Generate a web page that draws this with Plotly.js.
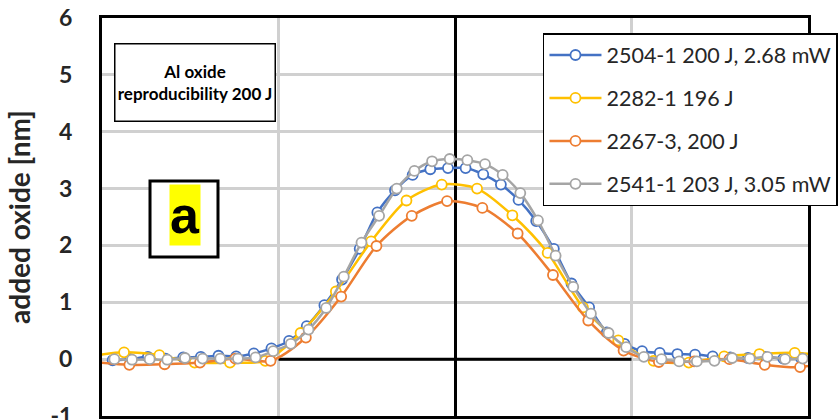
<!DOCTYPE html>
<html>
<head>
<meta charset="utf-8">
<script src="https://cdn.plot.ly/plotly-3.0.1.min.js"></script>
<style>
html,body{margin:0;padding:0;background:#fff;overflow:hidden;}
#chart{width:840px;height:420px;}
</style>
</head>
<body>
<div id="chart"></div>
<script>
// Series names
const seriesNames = ["2504-1 200 J, 2.68 mW", "2282-1 196 J", "2267-3, 200 J", "2541-1 203 J, 3.05 mW"];
const seriesColors = ["#4472C4", "#FFC000", "#ED7D31", "#A5A5A5"];

// 2504-1 (blue)
const blueX = [-1.94,-1.84,-1.74,-1.64,-1.54,-1.44,-1.34,-1.24,-1.14,-1.04,-0.94,-0.84,-0.74,-0.64,-0.54,-0.44,-0.34,-0.24,-0.14,-0.04,0.06,0.16,0.26,0.36,0.46,0.56,0.66,0.76,0.86,0.96,1.06,1.16,1.26,1.36,1.46,1.56,1.66,1.76,1.86,1.96];
const blueY = [-0.02,0.00,0.04,0.01,0.03,0.04,0.06,0.05,0.10,0.19,0.32,0.58,0.95,1.40,1.94,2.58,2.97,3.24,3.34,3.36,3.36,3.25,3.07,2.80,2.43,1.94,1.33,0.91,0.47,0.27,0.14,0.11,0.09,0.08,0.05,0.03,0.02,0.04,0.01,0.02];

// 2282-1 (yellow)
const yellowX = [-2.075,-1.875,-1.675,-1.475,-1.275,-1.075,-0.875,-0.675,-0.475,-0.275,-0.075,0.125,0.325,0.525,0.725,0.925,1.125,1.325,1.525,1.725,1.925,2.125];
const yellowY = [0.05,0.12,0.07,-0.06,-0.06,-0.03,0.46,1.19,2.07,2.79,3.07,3.00,2.53,1.87,0.91,0.33,-0.03,-0.06,0.05,0.09,0.11,0.05];

// 2267-3 (orange)
const orangeX = [-2.045,-1.845,-1.645,-1.445,-1.245,-1.045,-0.845,-0.645,-0.445,-0.245,-0.045,0.155,0.355,0.555,0.755,0.955,1.155,1.355,1.555,1.755,1.955,2.155];
const orangeY = [-0.05,-0.10,-0.09,-0.06,0.01,-0.03,0.38,1.10,1.99,2.52,2.78,2.66,2.21,1.48,0.68,0.15,-0.05,-0.04,0.00,-0.10,-0.14,0.00];

// 2541-1 (gray)
const grayX = [-1.93,-1.83,-1.73,-1.63,-1.53,-1.43,-1.33,-1.23,-1.13,-1.03,-0.93,-0.83,-0.73,-0.63,-0.53,-0.43,-0.33,-0.23,-0.13,-0.03,0.07,0.17,0.27,0.37,0.47,0.57,0.67,0.77,0.87,0.97,1.07,1.17,1.27,1.37,1.47,1.57,1.67,1.77,1.87,1.97];
const grayY = [0.00,-0.01,0.00,-0.01,0.02,0.01,0.01,0.01,0.03,0.14,0.27,0.52,0.90,1.45,2.05,2.52,3.00,3.31,3.48,3.52,3.50,3.43,3.24,2.92,2.44,1.82,1.27,0.80,0.46,0.21,0.04,0.00,-0.04,-0.04,-0.03,0.02,0.01,0.04,0.00,0.01];

// black reference segment at y = 0
const refX = [-1, 1];
const refY = [0, 0];

const yTicks = [-1,0,1,2,3,4,5,6];

const allX = [blueX, yellowX, orangeX, grayX];
const allY = [blueY, yellowY, orangeY, grayY];

const traces = [{
  x: refX, y: refY, mode: 'lines', type: 'scatter',
  line: {color: '#000000', width: 3}, showlegend: false, hoverinfo: 'skip'
}];
for (let i = 0; i < 4; i++) {
  traces.push({
    x: allX[i], y: allY[i], name: seriesNames[i], type: 'scatter', mode: 'lines+markers',
    legendgroup: 'g' + i,
    line: {color: seriesColors[i], width: 2.5, shape: 'spline', smoothing: 0.8},
    marker: {symbol: 'circle', size: 10, color: '#ffffff', line: {color: seriesColors[i], width: 1.8}},
    cliponaxis: true
  });
}

const layout = {
  width: 840, height: 420,
  margin: {l: 102, r: 32, t: 18, b: 4, autoexpand: false},
  paper_bgcolor: '#ffffff', plot_bgcolor: '#ffffff',
  showlegend: true,
  font: {family: 'Lato, "Open Sans", sans-serif', color: '#262626'},
  xaxis: {
    range: [-2, 2], dtick: 1, tick0: 0,
    showgrid: true, gridcolor: '#d0d0d0', gridwidth: 3,
    zeroline: true, zerolinecolor: '#000000', zerolinewidth: 3,
    showline: true, linecolor: '#000000', linewidth: 3, mirror: true,
    showticklabels: false, ticks: ''
  },
  yaxis: {
    range: [-1, 6], tickvals: yTicks, ticktext: yTicks.map(v => '<b>' + v + '</b>'),
    showgrid: true, gridcolor: '#d0d0d0', gridwidth: 3,
    zeroline: false,
    showline: true, linecolor: '#000000', linewidth: 3, mirror: true,
    ticks: 'outside', ticklen: 22, tickcolor: 'rgba(0,0,0,0)',
    ticklabeloverflow: 'allow',
    tickfont: {family: 'Lato, sans-serif', size: 23, color: '#262626'},
    title: {text: '<b>added oxide [nm]</b>', standoff: 12,
            font: {family: 'Lato, sans-serif', size: 28, color: '#262626'}}
  },
  legend: {
    x: 0.6246, y: 0.9623, xanchor: 'left', yanchor: 'top',
    bgcolor: '#ffffff', bordercolor: '#000000', borderwidth: 1.5,
    font: {family: 'Lato, sans-serif', size: 21.5, color: '#262626'},
    tracegroupgap: 12, itemwidth: 52
  },
  shapes: [{
    type: 'rect', xref: 'paper', yref: 'paper',
    x0: 0.068, x1: 0.1643, y0: 0.3995, y1: 0.5905,
    line: {color: '#000000', width: 3}, fillcolor: '#ffffff', layer: 'above'
  }],
  annotations: [{
    xref: 'paper', yref: 'paper', x: 0.1317, y: 0.8367,
    xanchor: 'center', yanchor: 'middle', showarrow: false,
    text: '<b>Al oxide</b><br><b>reproducibility 200 J</b>',
    font: {family: 'Lato, sans-serif', size: 17, color: '#000000'},
    bgcolor: '#ffffff', bordercolor: '#000000', borderwidth: 1.5, borderpad: 0,
    width: 159, height: 76, align: 'center'
  }, {
    xref: 'paper', yref: 'paper', x: 0.1176, y: 0.505,
    xanchor: 'center', yanchor: 'middle', showarrow: false,
    text: '<b>a</b>',
    font: {family: '"Liberation Sans", Arial, sans-serif', size: 52, color: '#000000'},
    bgcolor: '#FFFF00', borderpad: 0, width: 30, height: 60
  }]
};

Plotly.newPlot('chart', traces, layout, {displayModeBar: false, staticPlot: true});
</script>
</body>
</html>
